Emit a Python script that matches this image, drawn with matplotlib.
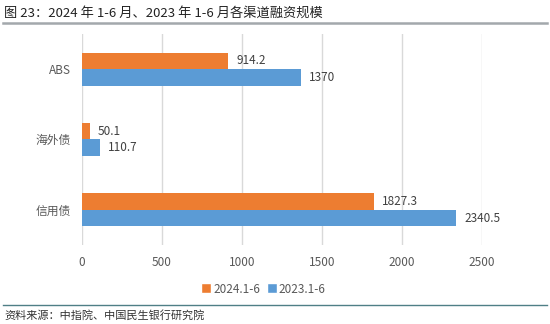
import matplotlib
matplotlib.use('Agg')
import matplotlib.pyplot as plt
import numpy as np
from matplotlib.lines import Line2D

plt.rcParams['font.family'] = ['Noto Sans CJK SC', 'DejaVu Sans']

# data (bottom to top)
categories = ['信用债', '海外债', 'ABS']
series_names = ['2024.1-6', '2023.1-6']
values_2024 = [1827.3, 50.1, 914.2]
values_2023 = [2340.5, 110.7, 1370]
x_ticks = [0, 500, 1000, 1500, 2000, 2500]

c_orange = '#ED7D31'
c_blue = '#5B9BD5'

fig = plt.figure(figsize=(5.5, 3.24), dpi=100)
ax = fig.add_axes([0.149, 0.244, 0.727, 0.651])

y = np.arange(len(categories))
h = 0.235
ax.barh(y + h / 2, values_2024, height=h, color=c_orange, label=series_names[0], zorder=3)
ax.barh(y - h / 2, values_2023, height=h, color=c_blue, label=series_names[1], zorder=3)

for yi, v in zip(y, values_2024):
    ax.text(v + 50, yi + h / 2, f'{v:g}', va='center', ha='left', fontsize=8.5, color='#404040')
for yi, v in zip(y, values_2023):
    ax.text(v + 50, yi - h / 2, f'{v:g}', va='center', ha='left', fontsize=8.5, color='#404040')

ax.set_xlim(0, 2500)
ax.set_ylim(-0.5, 2.5)
ax.set_xticks(x_ticks)
ax.set_xticklabels([str(t) for t in x_ticks], fontsize=8.5, color='#595959')
ax.set_yticks(y)
ax.set_yticklabels(categories, fontsize=8.5, color='#595959')
ax.tick_params(length=0, pad=8)
ax.grid(axis='x', color='#D9D9D9', linewidth=1, zorder=0)
for s in ax.spines.values():
    s.set_visible(False)

handles = [Line2D([0], [0], marker='s', color='w', markerfacecolor=c, markersize=7, label=n)
           for c, n in zip([c_orange, c_blue], series_names)]
fig.legend(handles=handles, loc='center', bbox_to_anchor=(0.478, 0.108), ncol=2,
           frameon=False, fontsize=8.5, handletextpad=0.1, columnspacing=0.5,
           labelcolor='#595959', handlelength=1.0)

# title and footer
fig.text(0.008, 0.96, '图 23：2024 年 1-6 月、2023 年 1-6 月各渠道融资规模',
         fontsize=9.5, ha='left', va='center', color='#222222')
fig.add_artist(Line2D([0.005, 0.995], [0.928, 0.928], color='#A3A8AC', linewidth=1.8))
fig.add_artist(Line2D([0.005, 0.995], [0.058, 0.058], color='#4F7F86', linewidth=1.0))
fig.text(0.008, 0.025, '资料来源：中指院、中国民生银行研究院',
         fontsize=8, ha='left', va='center', color='#333333')

fig.savefig('out.png', dpi=100, facecolor='white')
